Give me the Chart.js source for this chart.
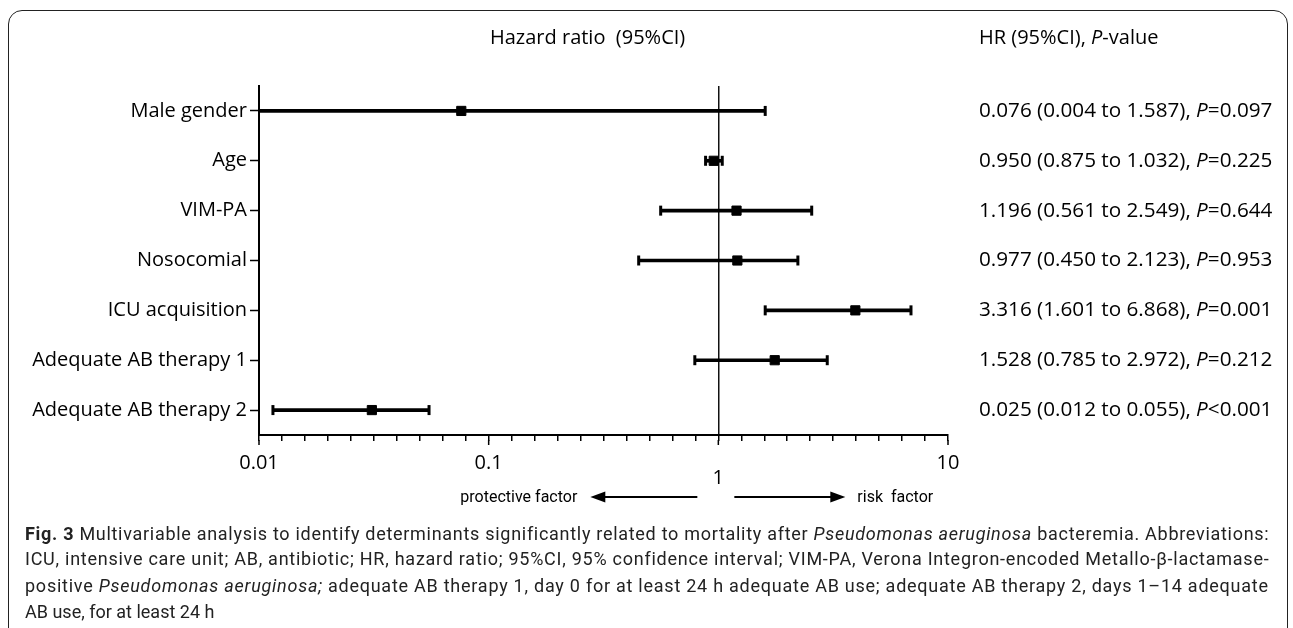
<!DOCTYPE html>
<html>
<head>
<meta charset="utf-8">
<script src="https://cdn.jsdelivr.net/npm/chart.js"></script>
<style>
  html, body { margin: 0; padding: 0; background: #fff; }
  body { width: 1293px; height: 628px; position: relative; overflow: hidden; }
  #frame { position: absolute; left: 8px; top: 10px; width: 1280px; height: 700px;
           border: 1.5px solid #222; border-radius: 14px; box-sizing: border-box; }
  #chart { position: absolute; left: 0; top: 0; }
  .cap { position: absolute; left: 25px; font-family: Roboto, sans-serif; font-size: 18px;
         line-height: 1; color: #222; white-space: nowrap; }
</style>
</head>
<body>
<div id="frame"></div>
<canvas id="chart" width="1293" height="628"></canvas>
<div class="cap fit" style="top:525px"><b>Fig. 3</b> Multivariable analysis to identify determinants significantly related to mortality after <i>Pseudomonas aeruginosa</i> bacteremia. Abbreviations:</div>
<div class="cap fit" style="top:550px">ICU, intensive care unit; AB, antibiotic; HR, hazard ratio; 95%CI, 95% confidence interval; VIM-PA, Verona Integron-encoded Metallo-β-lactamase-</div>
<div class="cap fit" style="top:577px">positive <i>Pseudomonas aeruginosa;</i> adequate AB therapy 1, day 0 for at least 24 h adequate AB use; adequate AB therapy 2, days 1–14 adequate</div>
<div class="cap" style="top:603px">AB use, for at least 24 h</div>
<script>
// rows of the forest plot
const rows = ['Male gender', 'Age', 'VIM-PA', 'Nosocomial', 'ICU acquisition', 'Adequate AB therapy 1', 'Adequate AB therapy 2'];

// marks as they sit on the plot
const hrPoint = [0.076, 0.955, 1.20, 1.21, 3.95, 1.76, 0.031];
const ciLow   = [0.004, 0.88, 0.561, 0.45, 1.60, 0.79, 0.0115];
const ciHigh  = [1.60, 1.04, 2.55, 2.22, 6.9, 2.98, 0.055];

// printed column on the right
const hrText   = ['0.076', '0.950', '1.196', '0.977', '3.316', '1.528', '0.025'];
const lowText  = ['0.004', '0.875', '0.561', '0.450', '1.601', '0.785', '0.012'];
const highText = ['1.587', '1.032', '2.549', '2.123', '6.868', '2.972', '0.055'];
const pText    = ['=0.097', '=0.225', '=0.644', '=0.953', '=0.001', '=0.212', '<0.001'];

// x axis
const xMajor = [0.01, 0.1, 1, 10];
const xMajorLabels = ['0.01', '0.1', '1', '10'];
const minorPerDecade = 10;

const FONT = '"Open Sans", sans-serif';

function isMajor(v) {
    return xMajor.some(m => Math.abs(m - v) / m < 1e-6);
}

// draws a line of text made of normal / italic pieces
function drawRuns(ctx, x, y, runs, size) {
    ctx.textBaseline = 'middle';
    ctx.textAlign = 'left';
    runs.forEach(r => {
        ctx.font = (r.i ? 'italic ' : '') + size + 'px ' + FONT;
        ctx.fillText(r.t, x, y);
        x += ctx.measureText(r.t).width;
    });
}

function drawArrow(ctx, x0, x1, y) {
    const dir = x1 > x0 ? 1 : -1;
    ctx.beginPath();
    ctx.moveTo(x0, y);
    ctx.lineTo(x1 - dir * 12, y);
    ctx.lineWidth = 2;
    ctx.stroke();
    ctx.beginPath();
    ctx.moveTo(x1, y);
    ctx.lineTo(x1 - dir * 15, y - 5.5);
    ctx.lineTo(x1 - dir * 15, y + 5.5);
    ctx.closePath();
    ctx.fill();
}

const extras = {
    id: 'extras',
    afterDraw(chart) {
        const ctx = chart.ctx;
        const x = chart.scales.x, y = chart.scales.y;
        ctx.save();
        ctx.fillStyle = '#000';
        ctx.strokeStyle = '#000';

        // longer ticks at the decades
        ctx.lineWidth = 1.5;
        xMajor.forEach(v => {
            const px = x.getPixelForValue(v);
            ctx.beginPath();
            ctx.moveTo(px, x.top + 5);
            ctx.lineTo(px, x.top + 10);
            ctx.stroke();
        });

        // headings
        drawRuns(ctx, 490, 38, [{t: 'Hazard ratio  (95%CI)'}], 20);
        drawRuns(ctx, 979, 38, [{t: 'HR (95%CI), '}, {t: 'P', i: true}, {t: '-value'}], 20);

        // right column
        rows.forEach((r, i) => {
            const py = y.getPixelForTick(i);
            drawRuns(ctx, 979, py, [
                {t: hrText[i] + ' (' + lowText[i] + ' to ' + highText[i] + '), '},
                {t: 'P', i: true},
                {t: pText[i]}
            ], 20.7);
        });

        // direction arrows
        const one = x.getPixelForValue(1);
        const ay = 497;
        drawArrow(ctx, one - 21, one - 128, ay);
        drawArrow(ctx, one + 16, one + 127, ay);
        ctx.font = '16px Roboto, sans-serif';
        ctx.textBaseline = 'middle';
        ctx.textAlign = 'right';
        ctx.fillText('protective factor', one - 141, ay + 1);
        ctx.textAlign = 'left';
        ctx.fillText('risk  factor', one + 139, ay + 1);
        ctx.restore();
    }
};

const capStyle = {
    type: 'line', indexAxis: 'y', showLine: false, pointStyle: 'line', rotation: 90,
    radius: 5, borderWidth: 3, borderColor: '#000', clip: 0
};

new Chart(document.getElementById('chart'), {
    type: 'bar',
    data: {
        labels: rows,
        datasets: [
            {
                data: rows.map((r, i) => [ciLow[i], ciHigh[i]]),
                backgroundColor: '#000',
                barThickness: 3,
                clip: 0
            },
            Object.assign({data: rows.map((r, i) => ({x: ciLow[i], y: r}))}, capStyle),
            Object.assign({data: rows.map((r, i) => ({x: ciHigh[i], y: r}))}, capStyle),
            {
                type: 'line', indexAxis: 'y', showLine: false,
                data: rows.map((r, i) => ({x: hrPoint[i], y: r})),
                pointStyle: 'rect', radius: 6.5,
                backgroundColor: '#000', borderColor: '#000', borderWidth: 1
            }
        ]
    },
    options: {
        indexAxis: 'y',
        responsive: false,
        animation: false,
        layout: { padding: { left: 10, top: 86, right: 345, bottom: 0 } },
        plugins: { legend: { display: false }, tooltip: { enabled: false } },
        scales: {
            x: {
                type: 'logarithmic',
                min: 0.01,
                max: 10,
                afterBuildTicks: s => {
                    const ticks = [];
                    const lo = Math.log10(0.01), hi = Math.log10(10);
                    for (let k = 0; k <= (hi - lo) * minorPerDecade; k++) {
                        ticks.push({ value: Math.pow(10, lo + k / minorPerDecade) });
                    }
                    s.ticks = ticks;
                },
                afterFit: s => { s.height = 628 - 435; },
                border: { color: '#000', width: 2 },
                grid: {
                    color: c => (c.tick && Math.abs(c.tick.value - 1) < 1e-9) ? '#111' : 'rgba(0,0,0,0)',
                    lineWidth: 1.5,
                    tickColor: '#000',
                    tickWidth: 1.5,
                    tickLength: 6
                },
                ticks: {
                    autoSkip: false,
                    maxRotation: 0,
                    padding: 15,
                    color: '#000',
                    font: { family: FONT, size: 20, lineHeight: 0.75 },
                    callback: function (v) {
                        if (!isMajor(v)) return '';
                        const idx = xMajor.findIndex(m => Math.abs(m - v) / m < 1e-6);
                        const lab = xMajorLabels[idx];
                        return lab === '1' ? ['', lab] : lab;
                    }
                }
            },
            y: {
                offset: true,
                afterFit: s => { s.width = 249; },
                border: { color: '#000', width: 2 },
                grid: { offset: false, drawOnChartArea: false, tickLength: 9, tickWidth: 1.5, color: '#000' },
                ticks: { padding: 3, color: '#000', font: { family: FONT, size: 20 } }
            }
        }
    },
    plugins: [extras]
});

// justify the caption lines to the same right edge
const capWidth = 1268 - 25;
document.querySelectorAll('.cap.fit').forEach(el => {
    const w = el.getBoundingClientRect().width;
    const n = el.textContent.length - 1;
    el.style.letterSpacing = ((capWidth - w) / n) + 'px';
});
</script>
</body>
</html>
